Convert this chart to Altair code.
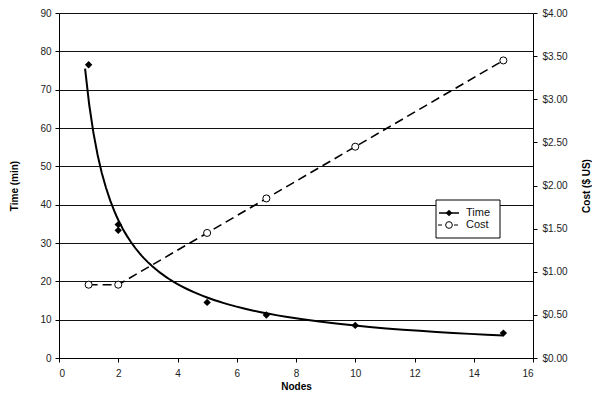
import altair as alt
import pandas as pd

# ---- data ----
nodes_time = [1, 2, 2, 5, 7, 10, 15]
time_min = [76.5, 34.8, 33.3, 14.5, 11.2, 8.5, 6.5]
nodes_cost = [1, 2, 5, 7, 10, 15]
cost_usd = [0.85, 0.85, 1.45, 1.85, 2.45, 3.45]
x_ticks = [0, 2, 4, 6, 8, 10, 12, 14, 16]
time_ticks = [0, 10, 20, 30, 40, 50, 60, 70, 80, 90]
cost_ticks = [0, 0.5, 1.0, 1.5, 2.0, 2.5, 3.0, 3.5, 4.0]
legend_labels = ["Time", "Cost"]

time_df = pd.DataFrame({"Nodes": nodes_time, "Time": time_min})
cost_df = pd.DataFrame({"Nodes": nodes_cost, "Cost": cost_usd})
one = pd.DataFrame({"k": [0]})

W, H = 474, 345
FONT = "Liberation Sans"

x_scale = alt.Scale(domain=[0, 16], nice=False, zero=False)
x_axis = alt.Axis(values=x_ticks, title="Nodes", grid=False, domainColor="#000",
                  tickColor="#000", tickSize=4, labelPadding=6, labelColor="#222",
                  titleY=28, titleBaseline="middle", titleFontWeight="bold")
y_left = alt.Axis(values=time_ticks, title="Time (min)", grid=True, gridColor="#111",
                  gridOpacity=1, gridWidth=1, domainColor="#000", tickColor="#000",
                  tickSize=4, labelPadding=4, labelColor="#222",
                  titleX=-45, titleY=H / 2, titleAlign="center", titleBaseline="middle",
                  titleFontWeight="bold", titleAngle=270)
y_right = alt.Axis(values=cost_ticks, orient="right", format="$.2f", title="Cost ($ US)",
                   grid=False, domainColor="#000", tickColor="#000", tickSize=4,
                   labelPadding=5, labelColor="#222",
                   titleX=53, titleY=H / 2, titleAlign="center", titleBaseline="middle",
                   titleFontWeight="bold", titleAngle=270)

xenc = alt.X("Nodes:Q", scale=x_scale, axis=x_axis)
y_time = alt.Y("Time:Q", scale=alt.Scale(domain=[0, 90], nice=False), axis=y_left)
y_cost = alt.Y("Cost:Q", scale=alt.Scale(domain=[0, 4], nice=False), axis=y_right)

trend = alt.Chart(time_df).transform_regression(
    "Nodes", "Time", method="pow", extent=[0.88, 15]
).mark_line(color="black", strokeWidth=2).encode(x=xenc, y=y_time)

time_pts = alt.Chart(time_df).mark_point(
    shape="diamond", filled=True, color="black", size=55, opacity=1
).encode(x=xenc, y=y_time)

time_layer = alt.layer(trend, time_pts)

cost_line = alt.Chart(cost_df).mark_line(
    color="black", strokeWidth=1.6, strokeDash=[9, 5]
).encode(x=xenc, y=y_cost)
cost_pts = alt.Chart(cost_df).mark_point(
    shape="circle", filled=True, fill="white", stroke="black", strokeWidth=1,
    size=50, opacity=1
).encode(x=xenc, y=y_cost)

cost_layer = alt.layer(cost_line, cost_pts)

# ---- hand-made legend box ----
lx0, lx1, ly0, ly1 = 377, 441, 187, 225
row1, row2 = 200, 212
box = alt.Chart(one).mark_rect(fill="white", stroke="black", strokeWidth=1).encode(
    x=alt.value(lx0), x2=alt.value(lx1), y=alt.value(ly0), y2=alt.value(ly1))
leg_line1 = alt.Chart(one).mark_rule(color="black", strokeWidth=1.5).encode(
    x=alt.value(380), x2=alt.value(400), y=alt.value(row1))
leg_pt1 = alt.Chart(one).mark_point(shape="diamond", filled=True, color="black",
                                    size=45, opacity=1).encode(
    x=alt.value(390), y=alt.value(row1))
leg_line2 = alt.Chart(one).mark_rule(color="black", strokeWidth=1.2,
                                     strokeDash=[4, 4]).encode(
    x=alt.value(379), x2=alt.value(401), y=alt.value(row2))
leg_pt2 = alt.Chart(one).mark_point(shape="circle", filled=True, fill="white",
                                    stroke="black", strokeWidth=1, size=45,
                                    opacity=1).encode(
    x=alt.value(390), y=alt.value(row2))
leg_t1 = alt.Chart(one).mark_text(align="left", baseline="middle", fontSize=11,
                                  font=FONT, color="#111").encode(
    x=alt.value(407), y=alt.value(row1), text=alt.value(legend_labels[0]))
leg_t2 = alt.Chart(one).mark_text(align="left", baseline="middle", fontSize=11,
                                  font=FONT, color="#111").encode(
    x=alt.value(407), y=alt.value(row2), text=alt.value(legend_labels[1]))

chart = alt.layer(
    time_layer, cost_layer, box, leg_line1, leg_pt1, leg_line2, leg_pt2, leg_t1, leg_t2
).resolve_scale(y="independent").properties(
    width=W, height=H,
    autosize=alt.AutoSizeParams(type="none"),
    padding={"left": 51, "top": 5, "right": 59, "bottom": 34},
).configure_view(strokeWidth=0).configure_axis(
    labelFont=FONT, titleFont=FONT, labelFontSize=10, titleFontSize=10,
    titleColor="#000"
)

chart.save("out.html", embed_options={"renderer": "svg", "actions": False})
